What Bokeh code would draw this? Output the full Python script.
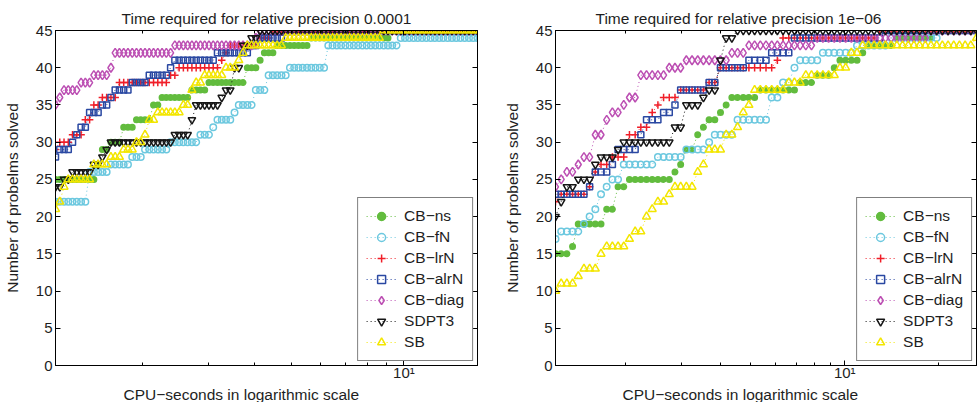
import numpy as np
from bokeh.plotting import figure
from bokeh.layouts import row
from bokeh.models import Range1d, FixedTicker, LinearAxis, LogAxis, Legend, LegendItem, Title
from bokeh.embed import file_html
from bokeh.resources import INLINE

# ------------------------------------------------------------------ data
SOLVERS = ["CB−ns", "CB−fN", "CB−lrN", "CB−alrN", "CB−diag", "SDPT3", "SB"]
Y_TICKS = [0, 5, 10, 15, 20, 25, 30, 35, 40, 45]
X_MAJOR = [10]
X_MAJOR_LABELS = {10: "10¹"}
Y_LABEL = "Number of probelms solved"
X_LABEL = "CPU−seconds in logarithmic scale"

# left panel: (time in seconds at which the count changes, number solved)
L_TITLE = "Time required for relative precision 0.0001"
L_XLIM = [1.172, 15.73]
L_SAMPLES = 100
L_MINOR = [2, 3, 4, 5, 6, 7, 8, 9]
L_ns_t = [1.172, 1.489, 1.564, 1.612, 1.768, 1.902, 2.098, 2.218, 2.680, 2.939, 3.754, 4.091, 4.219, 4.485, 5.557, 9.235]
L_ns_n = [25, 27, 29, 30, 32, 33, 35, 36, 37, 38, 40, 41, 42, 43, 44, 45]
L_fN_t = [1.172, 1.435, 1.642, 1.879, 1.998, 2.371, 2.799, 3.049, 3.105, 3.445, 3.618, 3.943, 4.271, 4.886, 6.242, 9.758]
L_fN_n = [22, 26, 27, 28, 29, 30, 31, 32, 33, 34, 35, 37, 39, 40, 43, 44]
L_lrN_t = [1.172, 1.187, 1.278, 1.383, 1.453, 1.526, 1.714, 2.328, 2.460, 3.221, 3.301, 3.383, 4.117, 4.376]
L_lrN_n = [29, 30, 31, 33, 35, 36, 38, 39, 40, 41, 42, 43, 44, 45]
L_alrN_t = [1.172, 1.187, 1.285, 1.317, 1.358, 1.427, 1.444, 1.564, 1.632, 1.683, 1.856, 2.060, 2.357, 2.401, 3.105, 3.871, 4.117, 4.710]
L_alrN_n = [28, 29, 30, 31, 32, 33, 34, 35, 36, 37, 38, 39, 40, 41, 42, 43, 44, 45]
L_diag_t = [1.172, 1.202, 1.224, 1.358, 1.453, 1.612, 1.683, 2.401, 3.919, 4.117]
L_diag_n = [35, 36, 37, 38, 39, 40, 42, 43, 44, 45]
L_sdpt_t = [1.172, 1.224, 1.270, 1.453, 1.526, 1.582, 1.632, 2.430, 2.664, 2.731, 3.202, 3.281, 3.509, 3.640, 3.871, 4.117]
L_sdpt_n = [24, 25, 26, 27, 28, 29, 30, 31, 33, 35, 36, 37, 40, 43, 44, 45]
L_sb_t = [1.172, 1.194, 1.209, 1.247, 1.453, 1.480, 1.612, 1.768, 1.902, 1.998, 2.060, 2.164, 2.521, 2.648, 2.680, 2.781, 2.868, 3.342, 3.596, 3.665, 3.754, 4.710, 8.794]
L_sb_n = [21, 22, 24, 25, 26, 27, 28, 29, 30, 31, 33, 34, 35, 36, 37, 38, 39, 40, 41, 42, 43, 44, 45]

# right panel
R_TITLE = "Time required for relative precision 1e−06"
R_XLIM = [1.191, 26.36]
R_SAMPLES = 75
R_MINOR = [2, 3, 4, 5, 6, 7, 8, 9, 20]
R_ns_t = [1.191, 1.3286, 1.3679, 1.3983, 1.6777, 1.8310, 1.8715, 1.9838, 2.7733, 2.8763, 3.1166, 3.2803, 3.3528, 3.4772, 3.5800, 3.8788, 4.1719, 4.2952, 5.3443, 7.1519, 7.9803, 8.9670, 9.5026, 11.154, 11.738, 14.085, 19.554]
R_ns_n = [15, 16, 17, 19, 21, 23, 24, 25, 26, 27, 29, 30, 31, 32, 33, 34, 35, 36, 37, 38, 39, 40, 41, 42, 43, 44, 45]
R_fN_t = [1.191, 1.2086, 1.4501, 1.4822, 1.5713, 1.6178, 1.7274, 1.7656, 1.9268, 1.9551, 2.4503, 3.0049, 3.6062, 3.7129, 4.3901, 5.6643, 6.2252, 6.6492, 6.8960, 7.1000, 8.2764, 10.525, 13.881, 19.986]
R_fN_n = [17, 18, 19, 20, 21, 23, 24, 25, 26, 27, 28, 29, 30, 31, 33, 36, 38, 39, 40, 41, 42, 43, 44, 45]
R_lrN_t = [1.191, 1.2086, 1.5150, 1.5599, 1.6535, 1.7783, 1.9983, 2.2128, 2.3456, 2.5228, 2.5974, 2.9186, 3.5800, 3.9645, 5.8744, 6.1800, 12.445]
R_lrN_n = [22, 23, 24, 26, 27, 28, 31, 32, 34, 35, 36, 37, 38, 40, 41, 44, 45]
R_alrN_t = [1.191, 1.5150, 1.5372, 1.7401, 1.8310, 2.1493, 2.2949, 2.5785, 2.7733, 2.9399, 3.6062, 3.8506, 3.9645, 4.8613, 5.8317, 6.7468, 13.095]
R_alrN_n = [23, 24, 26, 27, 29, 31, 33, 34, 35, 37, 38, 39, 40, 41, 42, 44, 45]
R_diag_t = [1.191, 1.2353, 1.2718, 1.3983, 1.4501, 1.5599, 1.7024, 1.8044, 1.9409, 2.0424, 2.1650, 2.6741, 3.0049, 4.2952, 4.8260, 7.8648, 18.448]
R_diag_n = [24, 25, 26, 27, 28, 31, 33, 34, 35, 36, 39, 40, 41, 42, 43, 44, 45]
R_sdpt_t = [1.191, 1.2263, 1.2443, 1.3679, 1.5599, 1.6296, 1.8579, 1.9129, 2.8347, 3.0049, 3.5282, 3.6326, 3.8506, 4.1416, 4.4222]
R_sdpt_n = [20, 22, 24, 25, 27, 28, 29, 30, 32, 35, 36, 37, 41, 44, 45]
R_sb_t = [1.191, 1.2174, 1.3679, 1.4188, 1.6296, 1.7024, 2.0130, 2.0574, 2.2617, 2.3456, 2.4503, 2.7332, 2.8347, 3.3528, 3.4519, 3.5800, 3.6859, 4.0521, 4.1416, 4.3901, 4.5530, 4.6877, 4.8613, 4.9689, 6.4583, 7.2569, 9.5026, 10.221, 11.073, 25.785]
R_sb_n = [10, 11, 12, 13, 15, 16, 17, 18, 20, 21, 22, 23, 24, 26, 27, 28, 29, 30, 31, 32, 33, 34, 35, 37, 38, 39, 40, 42, 43, 44]

# ------------------------------------------------------------------ style
FONT = "Liberation Sans"
TXT = "#1e1e1e"
COLORS = ["#62bc3e", "#6cc8df", "#f01e28", "#2a48a2", "#bc4fb3", "#161616", "#f3e600"]
MARKERS = ["circle", "circle", "cross", "square", "diamond", "inverted_triangle", "triangle"]
SIZES = [5.5, 6.5, 7.5, 6, 9, 7.5, 8]
FILLS = ["#62bc3e", None, None, None, None, None, None]


def step_counts(t, n, grid):
    idx = np.searchsorted(np.asarray(t), grid, side="right") - 1
    idx = np.clip(idx, 0, None)
    return np.asarray(n)[idx]


def style_axis(ax, ticker, show_labels):
    ax.ticker = ticker
    ax.axis_line_color = "black"
    ax.major_tick_line_color = "black"
    ax.minor_tick_line_color = "black"
    ax.major_tick_in = 5
    ax.major_tick_out = 0
    ax.minor_tick_in = 3
    ax.minor_tick_out = 0
    ax.major_label_text_font = FONT
    if show_labels:
        ax.major_label_text_color = TXT
        ax.major_label_text_font_size = "15px"
        ax.major_label_standoff = 3
    else:
        ax.major_label_text_color = None
        ax.major_label_text_font_size = "1px"
        ax.major_label_standoff = 0


def panel(title, xlim, nsamp, minor, tl, nl, width, b_left, b_right,
          title_align, title_offset, xlabel_offset):
    p = figure(width=width, height=402, x_axis_type="log",
               x_range=Range1d(xlim[0], xlim[1]), y_range=Range1d(0, 45),
               output_backend="svg", toolbar_location=None,
               min_border_left=b_left, min_border_right=b_right,
               min_border_top=30, min_border_bottom=37)
    p.title.text = title
    p.title.align = title_align
    p.title.offset = title_offset
    p.title.text_font = FONT
    p.title.text_font_size = "15.5px"
    p.title.text_font_style = "normal"
    p.title.text_color = TXT
    p.title.standoff = 8
    p.grid.visible = False
    p.outline_line_color = "black"
    p.outline_line_alpha = 1.0

    grid = np.geomspace(xlim[0], xlim[1], nsamp)
    items = []
    for i, name in enumerate(SOLVERS):
        y = step_counts(tl[i], nl[i], grid)
        lr = p.line(grid, y, line_color=COLORS[i], line_width=1, line_dash="1 3")
        sr = p.scatter(grid, y, marker=MARKERS[i], size=SIZES[i],
                       line_color=COLORS[i], fill_color=FILLS[i], line_width=1.5)
        items.append(LegendItem(label=name, renderers=[lr, sr]))

    xa = p.xaxis[0]
    style_axis(xa, FixedTicker(ticks=X_MAJOR, minor_ticks=minor), True)
    xa.major_label_overrides = X_MAJOR_LABELS
    xa.major_label_standoff = -2
    ya = p.yaxis[0]
    style_axis(ya, FixedTicker(ticks=Y_TICKS), True)
    ya.minor_tick_line_color = None
    ya.axis_label = Y_LABEL
    ya.axis_label_text_font = FONT
    ya.axis_label_text_font_size = "15.5px"
    ya.axis_label_text_font_style = "normal"
    ya.axis_label_text_color = TXT
    ya.axis_label_standoff = 12

    top = LogAxis()
    style_axis(top, FixedTicker(ticks=X_MAJOR, minor_ticks=minor), False)
    p.add_layout(top, "above")
    right = LinearAxis()
    style_axis(right, FixedTicker(ticks=Y_TICKS), False)
    right.minor_tick_line_color = None
    p.add_layout(right, "right")

    xl = Title(text=X_LABEL, align="left", offset=xlabel_offset, standoff=0,
               text_font=FONT, text_font_size="15.5px", text_font_style="normal",
               text_color=TXT)
    p.add_layout(xl, "below")

    leg = Legend(items=items, location="bottom_right")
    leg.margin = 4
    leg.padding = 8
    leg.spacing = 1
    leg.glyph_width = 30
    leg.glyph_height = 20
    leg.label_height = 20
    leg.label_standoff = 8
    leg.label_text_font = FONT
    leg.label_text_font_size = "15.5px"
    leg.label_text_color = TXT
    leg.border_line_color = "black"
    leg.border_line_width = 1
    leg.background_fill_color = "white"
    leg.background_fill_alpha = 1.0
    p.add_layout(leg)
    return p


pL = panel(L_TITLE, L_XLIM, L_SAMPLES, L_MINOR,
           [L_ns_t, L_fN_t, L_lrN_t, L_alrN_t, L_diag_t, L_sdpt_t, L_sb_t],
           [L_ns_n, L_fN_n, L_lrN_n, L_alrN_n, L_diag_n, L_sdpt_n, L_sb_n],
           500, 53, 23, "center", 0, 68)
pR = panel(R_TITLE, R_XLIM, R_SAMPLES, R_MINOR,
           [R_ns_t, R_fN_t, R_lrN_t, R_alrN_t, R_diag_t, R_sdpt_t, R_sb_t],
           [R_ns_n, R_fN_n, R_lrN_n, R_alrN_n, R_diag_n, R_sdpt_n, R_sb_n],
           480, 51, 4, "left", 40, 67)

layout = row(pL, pR)
open("out.html", "w").write(file_html(layout, INLINE))
